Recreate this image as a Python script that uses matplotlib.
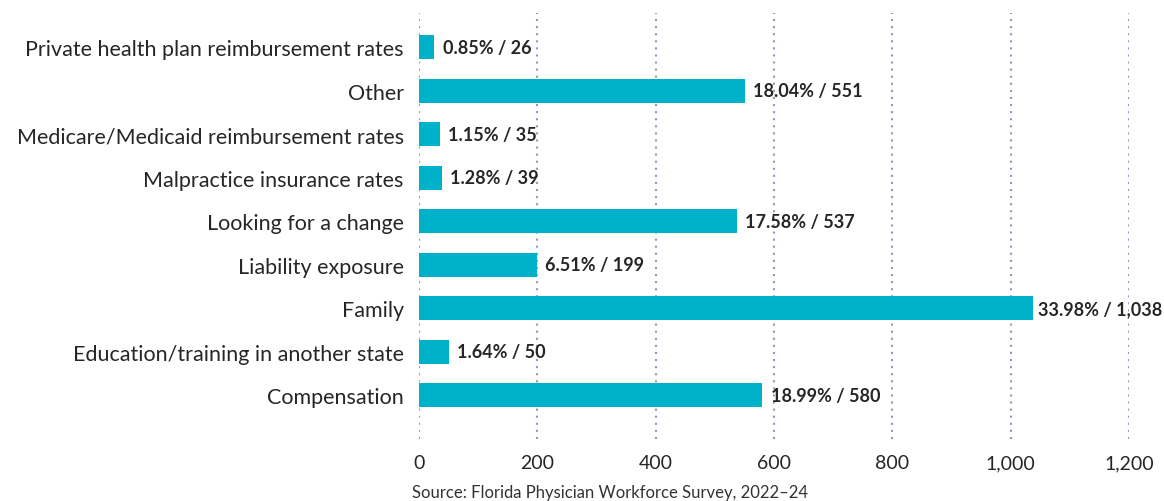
import matplotlib.pyplot as plt
from matplotlib.ticker import FuncFormatter

# data, bottom to top
categories = ['Compensation', 'Education/training in another state', 'Family',
              'Liability exposure', 'Looking for a change', 'Malpractice insurance rates',
              'Medicare/Medicaid reimbursement rates', 'Other',
              'Private health plan reimbursement rates']
counts = [580, 50, 1038, 199, 537, 39, 35, 551, 26]
percents = [18.99, 1.64, 33.98, 6.51, 17.58, 1.28, 1.15, 18.04, 0.85]
x_ticks = [0, 200, 400, 600, 800, 1000, 1200]

plt.rcParams['font.family'] = ['Lato', 'DejaVu Sans']
text_color = '#262626'
bar_color = '#00b2c9'

fig = plt.figure(figsize=(11.64, 5.02), dpi=100)
ax = fig.add_axes([0.36, 0.1235, 0.61, 0.8485])

y = list(range(len(categories)))
ax.barh(y, counts, height=0.55, color=bar_color, zorder=3)

labels = []
for yi, c, p in zip(y, counts, percents):
    t = ax.annotate(f"{p:.2f}% / {c:,}", (c, yi), xytext=(6, 0),
                    textcoords='offset points', va='center', ha='left',
                    fontsize=13, fontweight='bold', color=text_color, zorder=4)
    labels.append(t)

ax.set_xlim(0, 1200)
ax.set_ylim(-1.0, 8.78)
ax.set_xticks(x_ticks)
ax.xaxis.set_major_formatter(FuncFormatter(lambda v, _: f"{int(v):,}"))
ax.set_yticks(y)
ax.set_yticklabels(categories)

ax.tick_params(axis='both', length=0, colors=text_color)
ax.tick_params(axis='x', pad=11, labelsize=14)
ax.tick_params(axis='y', pad=11, labelsize=15.5)

ax.grid(axis='x', linestyle=(0, (1, 2.4)), color='#8c9cbc', linewidth=1.5, zorder=0)
ax.set_axisbelow(True)
for s in ax.spines.values():
    s.set_visible(False)

fig.text(0.354, 0.018, 'Source: Florida Physician Workforce Survey, 2022–24',
         fontsize=12, color='#333333', ha='left', va='center')

# keep the widest label inside the figure
fig.canvas.draw()
r = fig.canvas.get_renderer()
fig_w = fig.bbox.width
for t in labels:
    bb = t.get_window_extent(r)
    if bb.x1 > fig_w - 2:
        shift = (bb.x1 - (fig_w - 2)) * 72 / fig.dpi
        t.xyann = (6 - shift, 0)

plt.savefig('out.png', dpi=100, facecolor='white')
